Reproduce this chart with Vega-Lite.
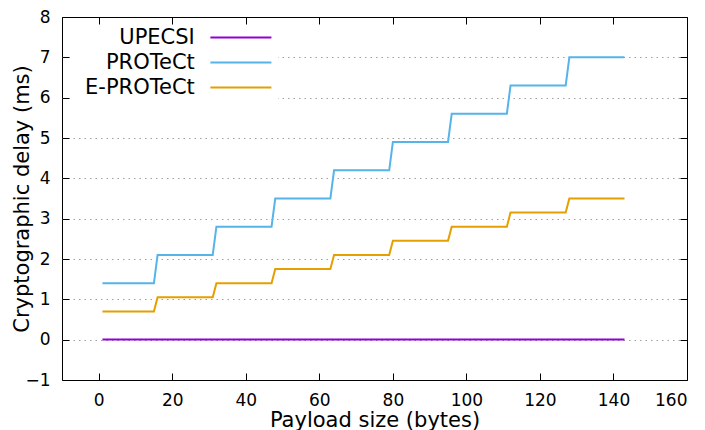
{
  "$schema": "https://vega.github.io/schema/vega-lite/v6.json",
  "width": 625,
  "height": 363,
  "autosize": "none",
  "padding": {"left": 62, "top": 17, "right": 18, "bottom": 50},
  "config": {
    "font": "DejaVu Sans",
    "view": {"stroke": "black", "strokeWidth": 1},
    "axis": {"labelColor": "black", "titleColor": "black", "tickColor": "black", "titleFontWeight": "normal", "labelFontSize": 17, "titleFontSize": 21, "domain": false, "tickSize": -7, "tickWidth": 1}
  },
  "data": {
    "values": [
      {"series": "UPECSI", "x": 1, "y": 0.002},
      {"series": "UPECSI", "x": 95, "y": 0.004},
      {"series": "UPECSI", "x": 96, "y": 0.006},
      {"series": "UPECSI", "x": 143, "y": 0.007},
      {"series": "PROTeCt", "x": 1, "y": 1.4},
      {"series": "PROTeCt", "x": 15, "y": 1.4},
      {"series": "PROTeCt", "x": 16, "y": 2.1},
      {"series": "PROTeCt", "x": 31, "y": 2.1},
      {"series": "PROTeCt", "x": 32, "y": 2.8},
      {"series": "PROTeCt", "x": 47, "y": 2.8},
      {"series": "PROTeCt", "x": 48, "y": 3.5},
      {"series": "PROTeCt", "x": 63, "y": 3.5},
      {"series": "PROTeCt", "x": 64, "y": 4.2},
      {"series": "PROTeCt", "x": 79, "y": 4.2},
      {"series": "PROTeCt", "x": 80, "y": 4.9},
      {"series": "PROTeCt", "x": 95, "y": 4.9},
      {"series": "PROTeCt", "x": 96, "y": 5.6},
      {"series": "PROTeCt", "x": 111, "y": 5.6},
      {"series": "PROTeCt", "x": 112, "y": 6.3},
      {"series": "PROTeCt", "x": 127, "y": 6.3},
      {"series": "PROTeCt", "x": 128, "y": 7.0},
      {"series": "PROTeCt", "x": 143, "y": 7.0},
      {"series": "E-PROTeCt", "x": 1, "y": 0.7},
      {"series": "E-PROTeCt", "x": 15, "y": 0.7},
      {"series": "E-PROTeCt", "x": 16, "y": 1.05},
      {"series": "E-PROTeCt", "x": 31, "y": 1.05},
      {"series": "E-PROTeCt", "x": 32, "y": 1.4},
      {"series": "E-PROTeCt", "x": 47, "y": 1.4},
      {"series": "E-PROTeCt", "x": 48, "y": 1.75},
      {"series": "E-PROTeCt", "x": 63, "y": 1.75},
      {"series": "E-PROTeCt", "x": 64, "y": 2.1},
      {"series": "E-PROTeCt", "x": 79, "y": 2.1},
      {"series": "E-PROTeCt", "x": 80, "y": 2.45},
      {"series": "E-PROTeCt", "x": 95, "y": 2.45},
      {"series": "E-PROTeCt", "x": 96, "y": 2.8},
      {"series": "E-PROTeCt", "x": 111, "y": 2.8},
      {"series": "E-PROTeCt", "x": 112, "y": 3.15},
      {"series": "E-PROTeCt", "x": 127, "y": 3.15},
      {"series": "E-PROTeCt", "x": 128, "y": 3.5},
      {"series": "E-PROTeCt", "x": 143, "y": 3.5}
    ]
  },
  "layer": [
    {
      "mark": {"type": "line", "strokeWidth": 2},
      "encoding": {
        "x": {"field": "x", "type": "quantitative", "scale": {"domain": [-10, 160], "nice": false, "zero": false},
          "axis": {"orient": "bottom", "values": [0, 20, 40, 60, 80, 100, 120, 140, 160], "title": "Payload size (bytes)", "grid": false, "labelPadding": 19, "titlePadding": 1}},
        "y": {"field": "y", "type": "quantitative", "scale": {"domain": [-1, 8], "nice": false, "zero": false},
          "axis": {"orient": "left", "values": [-1, 0, 1, 2, 3, 4, 5, 6, 7, 8], "title": "Cryptographic delay (ms)", "grid": true, "gridColor": "#a0a0a0", "gridDash": [1.5, 4], "gridWidth": 1,
            "gridOpacity": {"condition": {"test": "datum.value == 8 || datum.value == -1", "value": 0}, "value": 1},
            "labelPadding": 19, "titlePadding": -8}},
        "color": {"field": "series", "type": "nominal", "sort": null,
          "scale": {"domain": ["UPECSI", "PROTeCt", "E-PROTeCt"], "range": ["#9400d3", "#56b4e9", "#e69f00"]},
          "legend": {"orient": "none", "legendX": 8, "legendY": 8, "padding": 2, "fillColor": "white", "strokeColor": null, "title": null,
            "symbolType": "M-5,0H5", "symbolSize": 149, "symbolStrokeWidth": 2, "labelFontSize": 21, "labelAlign": "right", "labelOffset": -56.6, "symbolOffset": 158.4, "rowPadding": 3, "labelLimit": 0, "labelColor": "black"}}
      }
    },
    {
      "mark": {"type": "line", "opacity": 0},
      "encoding": {
        "x": {"field": "x", "type": "quantitative", "axis": {"orient": "top", "values": [0, 20, 40, 60, 80, 100, 120, 140, 160], "labels": false, "title": null, "grid": false}},
        "y": {"field": "y", "type": "quantitative", "axis": {"orient": "right", "values": [-1, 0, 1, 2, 3, 4, 5, 6, 7, 8], "labels": false, "title": null, "grid": false}},
        "detail": {"field": "series"}
      }
    }
  ],
  "resolve": {"axis": {"x": "independent", "y": "independent"}}
}
